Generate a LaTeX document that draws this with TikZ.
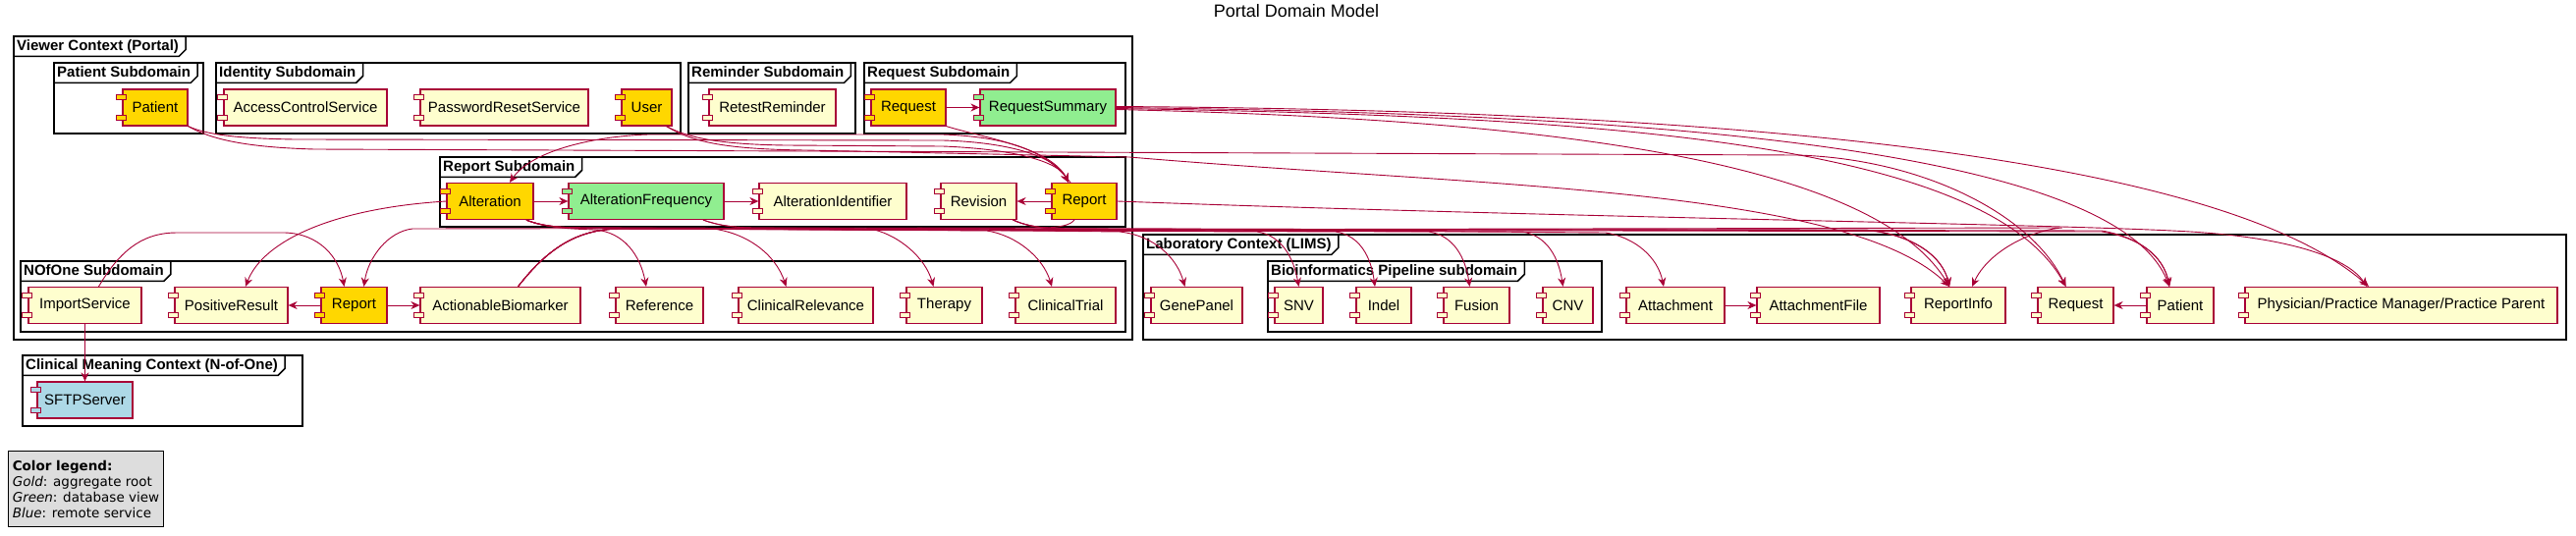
\documentclass[tikz,border=0pt]{standalone}
\usepackage{fontspec}
\setmainfont{Liberation Sans}
\newfontfamily\legendfamily{DejaVu Sans}
\usetikzlibrary{arrows.meta}
\definecolor{umlred}{HTML}{A80036}
\definecolor{umlyellow}{HTML}{FEFECE}
\definecolor{compgold}{HTML}{FFD700}
\definecolor{compgreen}{HTML}{90EE90}
\definecolor{compblue}{HTML}{ADD8E6}
\definecolor{legendgray}{HTML}{DDDDDD}
\tikzset{
  frame/.style={draw=black, line width=1.5pt},
  ftab/.style={anchor=north west, font=\bfseries\fontsize{15}{18}\selectfont, inner xsep=3pt, inner ysep=0pt, minimum height=20pt, text height=11pt, text depth=3pt},
  port/.style={draw=umlred, line width=1pt, minimum width=10pt, minimum height=5pt, inner sep=0pt},
  comp/.style={draw=umlred, line width=1.2pt, fill=#1, minimum height=37pt, inner sep=0pt, font=\fontsize{15}{18}\selectfont,
    append after command={\pgfextra{\edef\compnode{\tikzlastnode}}
      node[port, fill=#1, anchor=north, xshift=-1pt, yshift=-6pt] at (\compnode.north west) {}
      node[port, fill=#1, anchor=south, xshift=-1pt, yshift=6pt] at (\compnode.south west) {}}},
  comp/.default=umlyellow,
  link/.style={draw=umlred, line width=0.9pt, -{Stealth[length=9pt,width=8pt]}},
  legendbox/.style={anchor=north west, draw=black, line width=1pt, fill=legendgray, align=left, minimum width=158pt, minimum height=77pt, inner xsep=4pt, inner ysep=6pt, font=\legendfamily\fontsize{13.5}{16}\selectfont}
}
\begin{document}
\begin{tikzpicture}[x=1pt,y=-1pt]
  \useasboundingbox (0,0) rectangle (2623,546);
  \node[font=\fontsize{18}{22}\selectfont] (title) at (1320,11) {Portal Domain Model};

  % packages drawn as frames with a title tab
  \foreach \fl/\ft/\fr/\fb/\nm/\txt in {
      14/37/1153/346/viewer/{Viewer Context (Portal)},
      55/64/207/136/patientsd/{Patient Subdomain},
      220/64/693/136/identitysd/{Identity Subdomain},
      701/64/871/136/remindersd/{Reminder Subdomain},
      880/64/1146/136/requestsd/{Request Subdomain},
      448/160/1146/231/reportsd/{Report Subdomain},
      21/266/1146/338/nofonesd/{NOfOne Subdomain},
      1164/239/2613/346/lab/{Laboratory Context (LIMS)},
      1291/266/1631/338/bioinf/{Bioinformatics Pipeline subdomain},
      23/362/308/434/clinical/{Clinical Meaning Context (N-of-One)}} {
    \draw[frame] (\fl,\ft) rectangle (\fr,\fb);
    \node[ftab] (\nm) at (\fl,\ft) {\txt};
    \draw[frame] (\nm.south west) -- ([xshift=-3pt]\nm.south east) -- ([xshift=4pt,yshift=7pt]\nm.south east) -- ([xshift=4pt]\nm.north east);
  }

  % viewer, top row
  \node[comp=compgold, minimum width=66pt] (patient) at (158,109.5) {Patient};
  \node[comp, minimum width=166pt] (acs) at (311,109.5) {AccessControlService};
  \node[comp, minimum width=171pt] (prs) at (513.5,109.5) {PasswordResetService};
  \node[comp=compgold, minimum width=51pt] (user) at (658.5,109.5) {User};
  \node[comp, minimum width=129pt] (retest) at (786.5,109.5) {RetestReminder};
  \node[comp=compgold, minimum width=76pt] (request) at (925,109.5) {Request};
  \node[comp=compgreen, minimum width=138pt] (reqsum) at (1067,109.5) {RequestSummary};

  % report subdomain
  \node[comp=compgold, minimum width=88pt] (alteration) at (499,205) {Alteration};
  \node[comp=compgreen, minimum width=158pt] (altfreq) at (658,205) {AlterationFrequency};
  \node[comp, minimum width=150pt] (altid) at (848,205) {AlterationIdentifier};
  \node[comp, minimum width=77pt] (revision) at (996.5,205) {Revision};
  \node[comp=compgold, minimum width=66pt] (report) at (1104,205) {Report};

  % nofone subdomain
  \node[comp, minimum width=115pt] (import) at (86.5,311) {ImportService};
  \node[comp, minimum width=115pt] (posres) at (235.5,311) {PositiveResult};
  \node[comp=compgold, minimum width=67pt] (nreport) at (360.5,311) {Report};
  \node[comp, minimum width=163pt] (actbio) at (509.5,311) {ActionableBiomarker};
  \node[comp, minimum width=89pt] (reference) at (671.5,311) {Reference};
  \node[comp, minimum width=137pt] (clinrel) at (820.5,311) {ClinicalRelevance};
  \node[comp, minimum width=77pt] (therapy) at (961.5,311) {Therapy};
  \node[comp, minimum width=102pt] (clintrial) at (1085,311) {ClinicalTrial};

  % laboratory context
  \node[comp, minimum width=93pt] (genepanel) at (1218.5,311) {GenePanel};
  \node[comp, minimum width=49pt] (snv) at (1322.5,311) {SNV};
  \node[comp, minimum width=56pt] (indel) at (1409,311) {Indel};
  \node[comp, minimum width=67pt] (fusion) at (1503.5,311) {Fusion};
  \node[comp, minimum width=51pt] (cnv) at (1596.5,311) {CNV};
  \node[comp, minimum width=100pt] (attach) at (1706,311) {Attachment};
  \node[comp, minimum width=125pt] (attachfile) at (1851.5,311) {AttachmentFile};
  \node[comp, minimum width=96pt] (reportinfo) at (1994,311) {ReportInfo};
  \node[comp, minimum width=77pt] (lrequest) at (2113.5,311) {Request};
  \node[comp, minimum width=68pt] (lpatient) at (2220,311) {Patient};
  \node[comp, minimum width=318pt] (physician) at (2445,311) {Physician/Practice Manager/Practice Parent};

  % clinical meaning context
  \node[comp=compblue, minimum width=97pt] (sftp) at (86.5,407.5) {SFTPServer};

  \node[legendbox] (legend) at (8,459) {\textbf{Color legend:}\\\textit{Gold}: aggregate root\\\textit{Green}: database view\\\textit{Blue}: remote service};

  % short links
  \draw[link] (request) -- (reqsum);
  \draw[link] (alteration) -- (altfreq);
  \draw[link] (altfreq) -- (altid);
  \draw[link] (report) -- (revision);
  \draw[link] (nreport) -- (posres);
  \draw[link] (nreport) -- (actbio);
  \draw[link] (attach) -- (attachfile);
  \draw[link] (lpatient) -- (lrequest);
  \draw[link] (import) -- (sftp);

  % links into and out of the report
  \draw[link] ([xshift=-14pt]report.north) .. controls (1070,160) and (1040,140) .. (960,137) -- (660,137) .. controls (600,139) and (540,155) .. ([xshift=20pt]alteration.north);
  \draw[link] (patient.south east) .. controls (210,137) and (240,141) .. (300,142) -- (960,143) .. controls (1030,145) and (1075,160) .. ([xshift=-16pt]report.north);
  \draw[link] ([xshift=20pt]user.south) .. controls (700,140) and (730,147) .. (800,148) -- (960,149) .. controls (1035,152) and (1078,165) .. ([xshift=-16pt]report.north);
  \draw[link] (request.south east) .. controls (1000,140) and (1070,150) .. ([xshift=-16pt]report.north);

  % long links to the laboratory context
  \draw[link] (patient.south east) .. controls (215,142) and (250,150) .. (320,152) -- (1830,158) .. controls (1960,162) and (2070,220) .. ([xshift=-10pt]lrequest.north);
  \draw[link] ([xshift=20pt]user.south) .. controls (705,145) and (740,152) .. (820,153) -- (1150,160) .. controls (1500,190) and (1880,190) .. ([xshift=-9pt]reportinfo.north);
  \draw[link] ([yshift=1pt]reqsum.east) .. controls (1700,112) and (2250,150) .. ([xshift=-33pt]physician.north);
  \draw[link] ([yshift=0pt]reqsum.east) .. controls (1600,115) and (2150,140) .. ([xshift=-11pt]lpatient.north);
  \draw[link] ([yshift=-1pt]reqsum.east) .. controls (1600,118) and (2020,140) .. ([xshift=-10pt]lrequest.north);
  \draw[link] ([yshift=-2pt]reqsum.east) .. controls (1500,120) and (1900,150) .. ([xshift=-9pt]reportinfo.north);
  \draw[link] (report.east) .. controls (1600,222) and (2100,228) .. (2230,236) .. controls (2330,242) and (2390,262) .. ([xshift=-35pt]physician.north);

  % links along the band below the report subdomain
  \draw[link] (alteration.west) .. controls (340,212) and (268,245) .. ([xshift=14.5pt]posres.north);
  \draw[link] ([xshift=14pt]import.north) .. controls (125,250) and (150,237) .. (180,237) -- (290,237) .. controls (325,238) and (345,262) .. ([xshift=-10pt]nreport.north);
  \draw[link] ([xshift=-10pt]report.south) .. controls (1090,229) and (1080,232) .. (1060,232) -- (420,233) .. controls (395,236) and (375,262) .. ([xshift=10pt]nreport.north);
  \draw[link] ([xshift=37pt]alteration.south) .. controls (555,232) and (580,233) .. (605,234) .. controls (635,236) and (652,260) .. ([xshift=-13.5pt]reference.north);
  \draw[link] ([xshift=37pt]alteration.south) .. controls (555,232) and (580,232) .. (605,232) -- (715,232) .. controls (760,234) and (790,260) .. ([xshift=-20pt]clinrel.north);
  \draw[link] ([xshift=37pt]alteration.south) .. controls (555,232) and (580,232) .. (605,232) -- (890,234) .. controls (915,240) and (942,262) .. ([xshift=-11pt]therapy.north);
  \draw[link] ([xshift=37pt]alteration.south) .. controls (555,232) and (580,232) .. (605,232) -- (1005,235) .. controls (1035,240) and (1062,262) .. ([xshift=-14pt]clintrial.north);
  \draw[link] ([xshift=37pt]alteration.south) .. controls (555,232) and (580,232) .. (605,233) -- (2140,236) .. controls (2180,242) and (2203,262) .. ([xshift=-11pt]lpatient.north);
  \draw[link] ([xshift=18pt]actbio.north) .. controls (560,250) and (590,234) .. (630,233) -- (1280,236) .. controls (1305,240) and (1317,262) .. (snv.north);
  \draw[link] ([xshift=18pt]actbio.north) .. controls (560,250) and (590,234) .. (630,233) -- (1360,236) .. controls (1385,240) and (1396,262) .. ([xshift=-9pt]indel.north);
  \draw[link] ([xshift=18pt]actbio.north) .. controls (560,250) and (590,234) .. (630,233) -- (1455,236) .. controls (1480,240) and (1492,262) .. ([xshift=-7pt]fusion.north);
  \draw[link] ([xshift=18pt]actbio.north) .. controls (560,250) and (590,234) .. (630,233) -- (1550,236) .. controls (1575,240) and (1587,262) .. ([xshift=-5pt]cnv.north);
  \draw[link] ([xshift=18pt]actbio.north) .. controls (560,250) and (590,234) .. (630,233) -- (1900,234) .. controls (1950,240) and (1978,262) .. ([xshift=-9pt]reportinfo.north);
  \draw[link] ([xshift=58pt]altfreq.south) .. controls (730,229) and (745,232) .. (770,232) -- (1140,236) .. controls (1175,240) and (1198,262) .. ([xshift=-12pt]genepanel.north);
  \draw[link] ([xshift=58pt]altfreq.south) .. controls (730,229) and (745,232) .. (770,232) -- (1905,235) .. controls (1950,240) and (1978,262) .. ([xshift=-9pt]reportinfo.north);
  \draw[link] ([xshift=35pt]revision.south) .. controls (1045,230) and (1060,233) .. (1090,233) -- (1635,237) .. controls (1665,242) and (1688,262) .. ([xshift=-12pt]attach.north);
  \draw[link] ([xshift=35pt]revision.south) .. controls (1045,230) and (1060,233) .. (1090,233) -- (2140,235) .. controls (2180,242) and (2203,262) .. ([xshift=-11pt]lpatient.north);
  \draw[link] ([xshift=35pt]revision.south) .. controls (1045,230) and (1060,233) .. (1090,234) -- (2100,232) .. controls (2070,234) and (2025,255) .. ([xshift=14pt]reportinfo.north);
\end{tikzpicture}
\end{document}
